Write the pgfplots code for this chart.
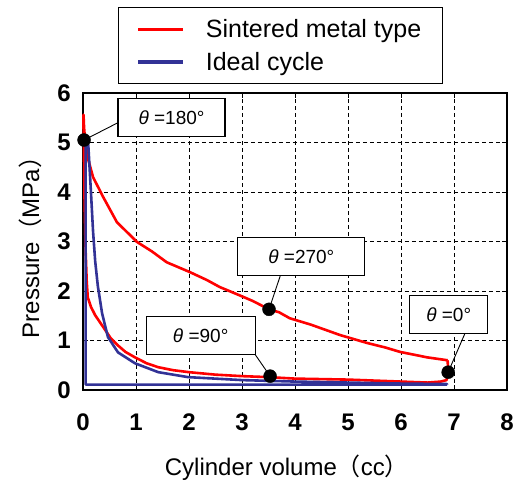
\documentclass[border=0pt]{standalone}
\usepackage{fontspec}
\setmainfont{Liberation Sans}
\newfontfamily\cjk{Noto Sans CJK JP}
\usepackage{pgfplots}
\pgfplotsset{compat=1.18}
\definecolor{sintered}{RGB}{255,0,0}
\definecolor{ideal}{RGB}{50,50,150}

\begin{document}
\begin{tikzpicture}
\useasboundingbox (-83pt,-99pt) rectangle (440pt,390pt);
\begin{axis}[
    at={(0pt,0pt)}, anchor=south west,
    scale only axis, width=424pt, height=297pt,
    xmin=0, xmax=8, ymin=0, ymax=6,
    xtick={0,1,...,8}, ytick={0,1,...,6},
    clip=false,
    axis line style={line width=1.3pt},
    tick align=inside, major tick length=5pt,
    tick style={black, line width=0.8pt},
    grid=major,
    major grid style={black, line width=0.9pt, dash pattern=on 4pt off 3pt},
    /pgf/number format/assume math mode=true,
    tick label style={font=\bfseries\fontsize{24}{28}\selectfont},
    xticklabel style={anchor=north, inner sep=0pt, yshift=-24pt},
    yticklabel style={anchor=east, inner sep=0pt, xshift=-12pt},
    label style={font=\fontsize{24}{28}\selectfont},
    xlabel={Cylinder volume{\cjk （}cc{\cjk ）}},
    ylabel={Pressure{\cjk （}MPa{\cjk ）}},
    xlabel style={at={(axis description cs:0.481,-0.263)}, anchor=center},
    ylabel style={at={(axis description cs:-0.125,0.5)}, anchor=center},
    legend style={at={(rel axis cs:0.0825,1.29)}, anchor=north west,
        draw=black, line width=1.4pt, fill=white,
        font=\fontsize{25}{30}\selectfont,
        inner xsep=18pt, inner ysep=9pt, row sep=7pt,
        nodes={inner sep=3pt},
        /tikz/every odd column/.append style={column sep=18pt}},
    legend cell align=left,
    legend image code/.code={\draw[#1, line width=3.2pt] (0pt,0pt) -- (45pt,0pt);},
]

% Sintered metal type (closed loop)
\addplot[sintered, line width=2.6pt, line join=round] coordinates {
  (6.88,0.60) (6.89,0.36) (6.86,0.20) (6.75,0.17) (6.5,0.15) (6.0,0.17)
  (5.5,0.19) (5.0,0.21) (4.5,0.22) (4.0,0.23) (3.5,0.26) (3.0,0.28)
  (2.5,0.31) (2.0,0.36) (1.7,0.40) (1.42,0.46) (1.2,0.54) (0.98,0.66)
  (0.8,0.77) (0.66,0.90) (0.52,1.05) (0.42,1.21) (0.3,1.40) (0.23,1.51)
  (0.15,1.68) (0.09,1.87) (0.07,2.2) (0.05,2.8) (0.03,3.8) (0.02,4.6)
  (0.01,5.3) (0.01,5.56) (0.02,5.3) (0.04,5.05) (0.1,4.65) (0.19,4.3)
  (0.38,3.9) (0.64,3.39) (1.02,2.99) (1.3,2.8) (1.58,2.58) (2.02,2.38)
  (2.34,2.22) (2.58,2.08) (2.96,1.91) (3.2,1.80) (3.51,1.63) (3.7,1.57)
  (3.9,1.45) (4.3,1.32) (4.85,1.11) (5.36,0.95) (5.7,0.86) (5.98,0.77)
  (6.49,0.66) (6.88,0.60)
};
\addlegendentry{Sintered metal type}

% Ideal cycle
\addplot[ideal, line width=2.6pt, line join=round] coordinates {
  (6.87,0.11) (0.05,0.11) (0.05,5.05) (0.10,4.95) (0.15,4.0) (0.19,3.2)
  (0.23,2.6) (0.28,2.1) (0.36,1.55) (0.47,1.07) (0.66,0.76) (0.98,0.54)
  (1.42,0.36) (1.98,0.26) (3.0,0.20) (4.0,0.17) (5.0,0.15) (6.0,0.13)
  (6.87,0.12) (6.87,0.11)
};
\addlegendentry{Ideal cycle}

% Connectors from labels to crank-angle points
\draw[black, line width=0.9pt] (axis cs:0.66,5.40) -- (axis cs:0.02,5.05);
\draw[black, line width=0.9pt] (axis cs:3.72,2.30) -- (axis cs:3.51,1.63);
\draw[black, line width=0.9pt] (axis cs:3.02,1.07) -- (axis cs:3.53,0.28);
\draw[black, line width=0.9pt] (axis cs:7.25,1.25) -- (axis cs:6.89,0.36);

% Crank-angle points
\addplot[only marks, mark=*, mark size=6.5pt, black, forget plot] coordinates {
  (0.02,5.05) (3.51,1.63) (3.53,0.28) (6.89,0.36)
};

% Labels
\tikzset{anglebox/.style={draw=black, line width=1.1pt, fill=white,
  minimum height=38pt, inner sep=0pt, font=\fontsize{19}{22}\selectfont}}
\node[anglebox, minimum width=107pt] at (axis cs:1.67,5.50) {\textit{θ} =180°};
\node[anglebox, minimum width=127pt] at (axis cs:4.12,2.70) {\textit{θ} =270°};
\node[anglebox, minimum width=109pt] at (axis cs:2.22,1.10) {\textit{θ} =90°};
\node[anglebox, minimum width=78pt] at (axis cs:6.90,1.53) {\textit{θ} =0°};

\end{axis}
\end{tikzpicture}
\end{document}
